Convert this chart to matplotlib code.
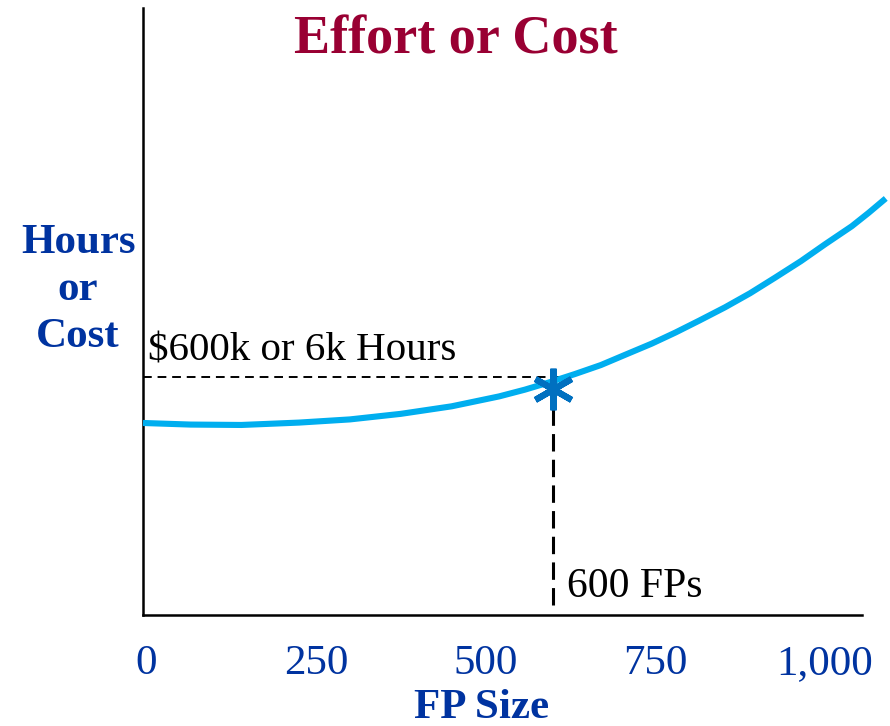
import matplotlib.pyplot as plt
from matplotlib.markers import MarkerStyle

plt.rcParams['font.family'] = ['Liberation Serif', 'DejaVu Serif']

# curve (FP size vs thousands of hours)
fp_size = [-5, 65, 140, 225, 300, 375, 450, 520, 558, 595, 632, 670, 706, 745,
           780, 815, 853, 890, 927, 965, 1001, 1040, 1065, 1090]
effort = [4.84, 4.80, 4.79, 4.85, 4.93, 5.07, 5.26, 5.51, 5.68, 5.87, 6.075, 6.30,
          6.56, 6.84, 7.12, 7.42, 7.755, 8.11, 8.505, 8.92, 9.35, 9.80, 10.14, 10.50]
x_ticks = [0, 250, 500, 750, 1000]
x_tick_labels = ['0', '250', '500', '750', '1,000']
point_fp = 600
point_effort = 6.0
marker_effort = 5.7

blue = '#0033a0'

fig = plt.figure(figsize=(8.9, 7.26), dpi=100)
ax = fig.add_axes([143 / 890, 111 / 726, 719 / 890, 607 / 726])

ax.plot(fp_size, effort, color='#00aeef', lw=4.4, solid_capstyle='butt',
        solid_joinstyle='round', clip_on=False, zorder=3)

# guide lines to the marked point
ax.plot([-5, 615], [point_effort, point_effort], color='black', lw=1.4,
        dashes=(4.5, 3), zorder=2)
ax.plot([point_fp, point_fp], [0.25, marker_effort], color='black', lw=2.2,
        dashes=(5.7, 2.7), zorder=2)
star = MarkerStyle((6, 2, 0), capstyle='round')
ax.plot([point_fp], [marker_effort], marker=star, markersize=30,
        markeredgewidth=4.5, color='#0070c0', zorder=4)

ax.text(2, 6.42, r'\$600k or 6k Hours', fontsize=29.5, va='baseline', ha='left')
ax.text(620, 0.45, '600 FPs', fontsize=30, va='baseline', ha='left')

ax.set_xlim(-5, 1055)
ax.set_ylim(0, 15.3)
ax.set_xticks(x_ticks)
ax.set_xticklabels(x_tick_labels)
ax.set_yticks([])
ax.tick_params(axis='x', length=0, pad=21, labelsize=31, labelcolor=blue)
for side in ['top', 'right']:
    ax.spines[side].set_visible(False)
for side in ['left', 'bottom']:
    ax.spines[side].set_linewidth(1.8)

fig.text(482 / 890, 1 - 708 / 726, 'FP Size', fontsize=31, fontweight='bold',
         color=blue, ha='center', va='center')
fig.text(78 / 890, 1 - 290 / 726, 'Hours\nor\nCost', fontsize=31, fontweight='bold',
         color=blue, ha='center', va='center', linespacing=1.3)
fig.text(456 / 890, 1 - 40 / 726, 'Effort or Cost', fontsize=39, fontweight='bold',
         color='#990033', ha='center', va='center')

fig.savefig('out.png', dpi=100)
